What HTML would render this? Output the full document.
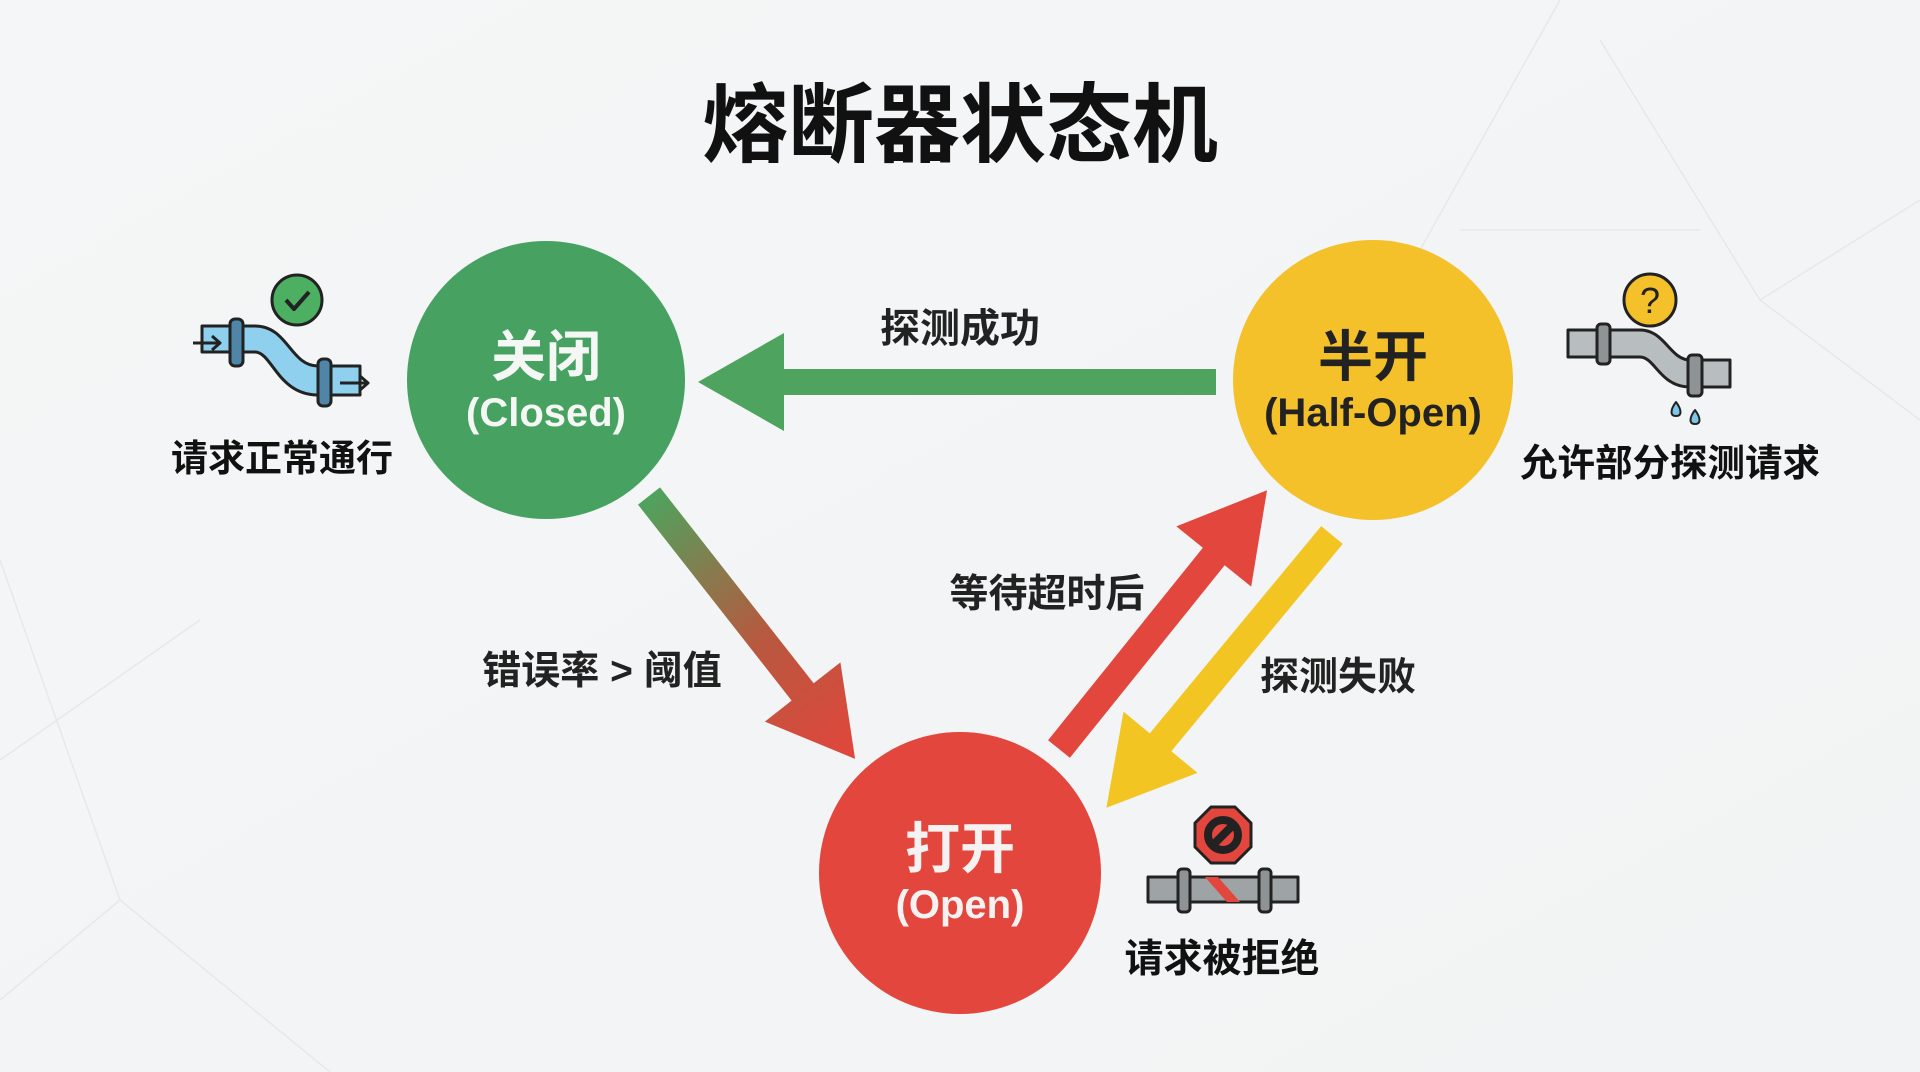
<!DOCTYPE html>
<html><head><meta charset="utf-8"><style>
html,body{margin:0;padding:0;background:#f3f5f6;}
svg{display:block}
text{font-family:"Liberation Sans","Noto Sans CJK SC",sans-serif;}
</style></head><body>
<svg width="1920" height="1072" viewBox="0 0 1920 1072" xmlns="http://www.w3.org/2000/svg">
<defs>
<linearGradient id="bg" x1="0" y1="0" x2="1" y2="1"><stop offset="0" stop-color="#f4f6f7"/><stop offset="1" stop-color="#f1f3f4"/></linearGradient>
<linearGradient id="g1" gradientUnits="userSpaceOnUse" x1="0" y1="0" x2="334" y2="0"><stop offset="0" stop-color="#4ea35e"/><stop offset="0.55" stop-color="#b8583f"/><stop offset="1" stop-color="#e2463c"/></linearGradient>
</defs>
<rect width="1920" height="1072" fill="url(#bg)"/>
<g stroke="#e6e8ea" stroke-width="1.5" fill="none">
<path d="M1420 250 L1560 0 M1600 40 L1760 300 L1920 200 M1460 230 L1700 230 M0 560 L120 900 L330 1072 M0 760 L200 620 M120 900 L0 1000 M1760 300 L1920 420"/>
</g>
<text x="960" y="155" text-anchor="middle" font-size="86" font-weight="bold" fill="#111">熔断器状态机</text>

<polygon points="1216,369 784,369 784,333 698,382 784,431 784,395 1216,395" fill="#4ea35e"/>
<text x="960" y="342" text-anchor="middle" font-size="40" font-weight="bold" fill="#222">探测成功</text>

<g transform="translate(649,496) rotate(51.9)">
<polygon points="0,-14 249,-14 249,-48 334,0 249,48 249,14 0,14" fill="url(#g1)"/>
</g>
<text x="602" y="684" text-anchor="middle" font-size="39" font-weight="bold" fill="#222">错误率 &gt; 阈值</text>

<g transform="translate(1059,749) rotate(-51.2)">
<polygon points="0,-14 247,-14 247,-48 332,0 247,48 247,14 0,14" fill="#e2463c"/>
</g>
<text x="1047" y="607" text-anchor="middle" font-size="39" font-weight="bold" fill="#222">等待超时后</text>

<g transform="translate(1332,535) rotate(129.6)">
<polygon points="0,-14 269,-14 269,-48 354,0 269,48 269,14 0,14" fill="#f2c523"/>
</g>
<text x="1338" y="690" text-anchor="middle" font-size="39" font-weight="bold" fill="#222">探测失败</text>

<circle cx="546" cy="380" r="139" fill="#47a262"/>
<text x="546" y="376" text-anchor="middle" font-size="55" font-weight="bold" fill="#f4f7f4">关闭</text>
<text x="546" y="426" text-anchor="middle" font-size="40" font-weight="bold" fill="#f4f7f4">(Closed)</text>

<circle cx="1373" cy="380" r="140" fill="#f4c12b"/>
<text x="1373" y="376" text-anchor="middle" font-size="55" font-weight="bold" fill="#222">半开</text>
<text x="1373" y="426" text-anchor="middle" font-size="40" font-weight="bold" fill="#222">(Half-Open)</text>

<circle cx="960" cy="873" r="141" fill="#e2463c"/>
<text x="960" y="868" text-anchor="middle" font-size="55" font-weight="bold" fill="#f7f2f2">打开</text>
<text x="960" y="918" text-anchor="middle" font-size="40" font-weight="bold" fill="#f7f2f2">(Open)</text>

<g stroke="#222" stroke-width="3" stroke-linejoin="round">
<circle cx="297" cy="300" r="25" fill="#4caf62"/>
<path d="M286 300 L294 309 L309 292" fill="none" stroke-width="4"/>
<path d="M202 326 L255 326 C288 326 290 366 318 366 L360 366 L360 395 L318 395 C278 395 272 352 255 352 L202 352 Z" fill="#8fd0ee"/>
<rect x="230" y="319" width="13" height="47" rx="5" fill="#4f86a8"/>
<rect x="318" y="359" width="13" height="47" rx="5" fill="#4f86a8"/>
<path d="M193 343 L220 343 M212 336 L220 343 L212 350 M340 383 L368 383 M360 376 L368 383 L360 390" fill="none"/>
</g>
<text x="282" y="471" text-anchor="middle" font-size="37" font-weight="bold" fill="#111">请求正常通行</text>

<g stroke="#222" stroke-width="3" stroke-linejoin="round">
<circle cx="1650" cy="300" r="26" fill="#f4c12b"/>
<text x="1650" y="313" text-anchor="middle" font-size="36" fill="#222" stroke="none">?</text>
<path d="M1568 330 L1640 330 C1665 330 1670 360 1690 360 L1730 360 L1730 387 L1690 387 C1660 387 1655 357 1640 357 L1568 357 Z" fill="#b8bdbf"/>
<rect x="1597" y="324" width="13" height="40" rx="4" fill="#8e9496"/>
<rect x="1688" y="355" width="14" height="41" rx="4" fill="#8e9496"/>
<path d="M1676 402 C1670 410 1670 416 1676 416 C1682 416 1682 410 1676 402 Z" fill="#7cc6ea" stroke-width="2"/>
<path d="M1695 410 C1689 418 1689 424 1695 424 C1701 424 1701 418 1695 410 Z" fill="#7cc6ea" stroke-width="2"/>
</g>
<text x="1670" y="476" text-anchor="middle" font-size="37.5" font-weight="bold" fill="#111">允许部分探测请求</text>

<g stroke="#222" stroke-width="3" stroke-linejoin="round">
<polygon points="1211,807 1235,807 1251,823 1251,847 1235,863 1211,863 1195,847 1195,823" fill="#e2463c"/>
<circle cx="1223" cy="835" r="15" fill="none" stroke="#222" stroke-width="8"/>
<line x1="1212" y1="846" x2="1234" y2="824" stroke-width="8"/>
<rect x="1148" y="877" width="150" height="25" fill="#9ea3a5"/>
<polygon points="1205,877 1218,877 1240,902 1227,902" fill="#e2463c" stroke="none"/>
<rect x="1178" y="869" width="12" height="43" rx="4" fill="#8e9496"/>
<rect x="1259" y="869" width="12" height="43" rx="4" fill="#8e9496"/>
</g>
<text x="1222" y="972" text-anchor="middle" font-size="39" font-weight="bold" fill="#111">请求被拒绝</text>
</svg>
</body></html>
